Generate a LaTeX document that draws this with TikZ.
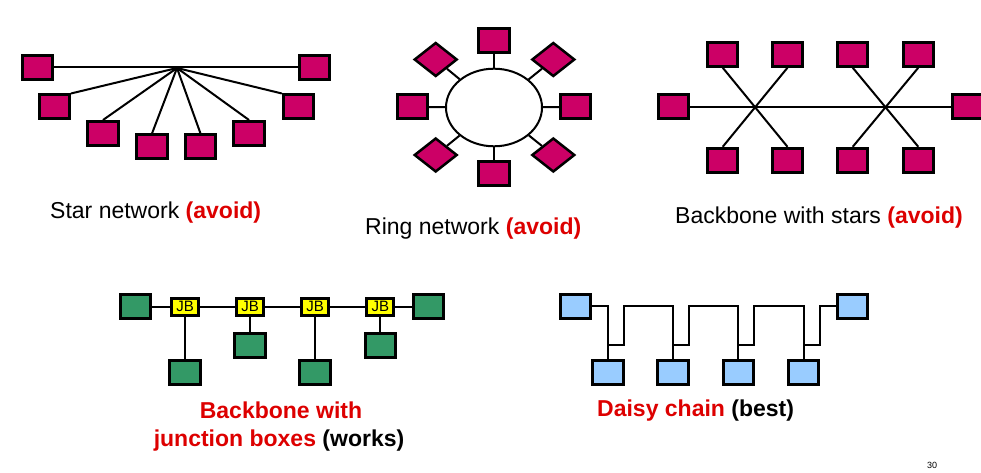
\documentclass[tikz,border=0pt]{standalone}
\usepackage{fontspec}
\setmainfont{Liberation Sans}
\usetikzlibrary{shapes.geometric}
\definecolor{magbox}{RGB}{204,0,102}
\definecolor{greenbox}{RGB}{51,153,102}
\definecolor{bluebox}{RGB}{153,204,255}
\definecolor{jbyellow}{RGB}{255,255,0}
\definecolor{warnred}{RGB}{221,0,0}
\begin{document}
\begin{tikzpicture}[x=1pt,y=-1pt,
  box/.style={rectangle,draw=black,line width=3pt,minimum width=30.3pt,minimum height=24pt,inner sep=0pt},
  magbox/.style={box,fill=magbox},
  grbox/.style={box,fill=greenbox},
  blbox/.style={box,fill=bluebox},
  dia/.style={diamond,draw=black,line width=2.5pt,fill=magbox,minimum width=43pt,minimum height=34pt,inner sep=0pt},
  jbbox/.style={rectangle,draw=black,line width=3pt,fill=jbyellow,minimum width=27pt,minimum height=17pt,inner sep=0pt,font=\fontsize{15}{15}\selectfont},
  conn/.style={draw=black,line width=2pt},
  lbl/.style={font=\fontsize{23}{28}\selectfont,inner sep=0pt},
  warn/.style={text=warnred}
]
\useasboundingbox (0,0) rectangle (981,473);
\fill[white] (0,0) rectangle (981,473);

% ---------- Star network ----------
\coordinate (hub) at (177,68);
\node[magbox] (s1) at (37.3,67.5) {};
\node[magbox] (s2) at (314.8,67.5) {};
\node[magbox] (s3) at (54.3,107) {};
\node[magbox] (s4) at (298.5,107) {};
\node[magbox] (s5) at (103,133.5) {};
\node[magbox] (s6) at (249,133.5) {};
\node[magbox] (s7) at (152,147) {};
\node[magbox] (s8) at (200.5,147) {};
\draw[conn] (s1.east) -- (s2.west);
\draw[conn] (hub) -- (s3.north east);
\draw[conn] (hub) -- (s4.north west);
\draw[conn] (hub) -- (s5.north);
\draw[conn] (hub) -- (s6.north);
\draw[conn] (hub) -- (s7.north);
\draw[conn] (hub) -- (s8.north);
\node[lbl,anchor=base west] (t1) at (50,218) {Star network \textbf{\color{warnred}(avoid)}};

% ---------- Ring network ----------
\node[ellipse,draw=black,line width=2pt,fill=white,minimum width=96pt,minimum height=77.6pt,inner sep=0pt] (ring) at (494,107.5) {};
\node[magbox] (r1) at (494,40.7) {};
\node[magbox] (r2) at (494,173.3) {};
\node[magbox] (r3) at (412.5,107) {};
\node[magbox] (r4) at (575.8,107) {};
\node[dia] (d1) at (435.7,59.5) {};
\node[dia] (d2) at (553.3,59.5) {};
\node[dia] (d3) at (435.7,155) {};
\node[dia] (d4) at (553.3,155) {};
\draw[conn] (ring) -- (r1);
\draw[conn] (ring) -- (r2);
\draw[conn] (ring) -- (r3);
\draw[conn] (ring) -- (r4);
\draw[conn] (ring) -- (d1);
\draw[conn] (ring) -- (d2);
\draw[conn] (ring) -- (d3);
\draw[conn] (ring) -- (d4);
\node[lbl,anchor=base west] (t2) at (365,234) {Ring network \textbf{\color{warnred}(avoid)}};

% ---------- Backbone with stars ----------
\node[magbox] (bl) at (673.3,107) {};
\node[magbox] (br) at (967.5,107) {};
\node[magbox] (bt1) at (722.7,54.2) {};
\node[magbox] (bt2) at (787.5,54.2) {};
\node[magbox] (bt3) at (852.7,54.2) {};
\node[magbox] (bt4) at (918.3,54.2) {};
\node[magbox] (bb1) at (722.7,160.3) {};
\node[magbox] (bb2) at (787.5,160.3) {};
\node[magbox] (bb3) at (852.7,160.3) {};
\node[magbox] (bb4) at (918.3,160.3) {};
\draw[conn] (bl.east) -- (br.west);
\draw[conn] (bt1.south) -- (bb2.north);
\draw[conn] (bt2.south) -- (bb1.north);
\draw[conn] (bt3.south) -- (bb4.north);
\draw[conn] (bt4.south) -- (bb3.north);
\node[lbl,anchor=base west] (t3) at (675,223.3) {Backbone with stars \textbf{\color{warnred}(avoid)}};

% ---------- Backbone with junction boxes ----------
\node[grbox] (g1) at (135.3,306.5) {};
\node[grbox] (g2) at (428.7,306.5) {};
\node[jbbox] (jb1) at (185,306.5) {JB};
\node[jbbox] (jb2) at (250,306.5) {JB};
\node[jbbox] (jb3) at (315,306.5) {JB};
\node[jbbox] (jb4) at (380.3,306.5) {JB};
\node[grbox] (gb1) at (185,372.5) {};
\node[grbox] (gb2) at (250,345.8) {};
\node[grbox] (gb3) at (315,372.5) {};
\node[grbox] (gb4) at (380.3,345.8) {};
\draw[conn] (g1.east) -- (jb1.west);
\draw[conn] (jb1.east) -- (jb2.west);
\draw[conn] (jb2.east) -- (jb3.west);
\draw[conn] (jb3.east) -- (jb4.west);
\draw[conn] (jb4.east) -- (g2.west);
\draw[conn,line width=2.8pt] (jb1.south) -- (gb1.north);
\draw[conn] (jb2.south) -- (gb2.north);
\draw[conn] (jb3.south) -- (gb3.north);
\draw[conn] (jb4.south) -- (gb4.north);
\node[lbl,anchor=base] (t4a) at (281,418.3) {\textbf{\color{warnred}Backbone with}};
\node[lbl,anchor=base] (t4b) at (279,446.3) {\textbf{\color{warnred}junction boxes} \textbf{(works)}};

% ---------- Daisy chain ----------
\node[blbox] (lb) at (575.3,306.3) {};
\node[blbox] (rb) at (852.8,306.3) {};
\node[blbox] (c1) at (608,372.3) {};
\node[blbox] (c2) at (673,372.3) {};
\node[blbox] (c3) at (738.3,372.3) {};
\node[blbox] (c4) at (803.7,372.3) {};
\draw[conn,line join=miter] (lb.east) -| (c1.north);
\draw[conn,line join=miter] (c1.north) ++(0,-14) -- ++(16,0) |- (c2.north |- lb.east) -- (c2.north);
\draw[conn,line join=miter] (c2.north) ++(0,-14) -- ++(16,0) |- (c3.north |- lb.east) -- (c3.north);
\draw[conn,line join=miter] (c3.north) ++(0,-14) -- ++(16,0) |- (c4.north |- lb.east) -- (c4.north);
\draw[conn,line join=miter] (c4.north) ++(0,-14) -- ++(16,0) |- (rb.west);
\node[lbl,anchor=base west] (t5) at (597,416.7) {\textbf{\color{warnred}Daisy chain} \textbf{(best)}};

% ---------- page number ----------
\node[font=\fontsize{9}{9}\selectfont,inner sep=0pt] (pg) at (932,465.5) {30};
\end{tikzpicture}
\end{document}
